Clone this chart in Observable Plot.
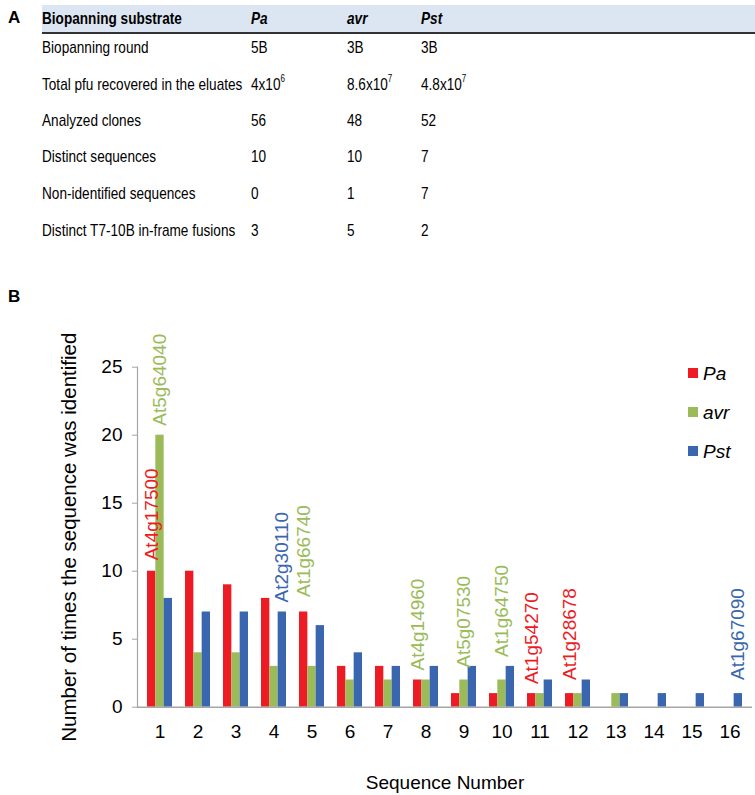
<!DOCTYPE html>
<html><head><meta charset="utf-8">
<script src="https://cdn.jsdelivr.net/npm/d3@7"></script>
<script src="https://cdn.jsdelivr.net/npm/@observablehq/plot@0.6"></script>
<style>
body{margin:0;background:#fff;width:755px;height:795px;overflow:hidden;position:relative;font-family:"Liberation Sans",Arial,sans-serif;color:#000;}
.panel{position:absolute;font-weight:bold;font-size:17px;line-height:20px;z-index:3;}
.hdr{position:absolute;left:42px;top:5px;width:713px;height:27px;background:#dce6f2;border-bottom:2px solid #333;}
.cell{position:absolute;font-family:"Liberation Sans",Arial,sans-serif;font-size:17px;line-height:20px;white-space:nowrap;transform:translateY(-50%) scaleX(0.8);transform-origin:0 50%;}
.cell sup{font-size:10px;vertical-align:top;line-height:10px;position:relative;top:-1px;}
#chart{position:absolute;left:0;top:300px;}
#chart g[aria-label="y-axis label"]{font-size:20.5px;}
.leg{position:absolute;font-size:19px;font-style:italic;line-height:20px;white-space:nowrap;transform:translateY(-50%);}
.leg span{display:inline-block;width:10px;height:10px;margin-right:5px;vertical-align:middle;position:relative;top:-2px;}
</style>
</head><body>
<div class="panel" style="left:8px;top:8px;">A</div>
<div class="panel" style="left:8px;top:287px;">B</div>
<div class="hdr"></div>
<div id="table"></div>
<div id="chart"></div>
<div id="legend"></div>
<script>
// ---- Table data (panel A) ----
const tableHeader = ["Biopanning substrate", "Pa", "avr", "Pst"];
const rowLabels = ["Biopanning round", "Total pfu recovered in the eluates", "Analyzed clones", "Distinct sequences", "Non-identified sequences", "Distinct T7-10B in-frame fusions"];
const paColumn = ["5B", "4x10^6", "56", "10", "0", "3"];
const avrColumn = ["3B", "8.6x10^7", "48", "10", "1", "5"];
const pstColumn = ["3B", "4.8x10^7", "52", "7", "7", "2"];

// ---- Chart data (panel B) ----
const sequences = [1, 2, 3, 4, 5, 6, 7, 8, 9, 10, 11, 12, 13, 14, 15, 16];
const seriesNames = ["Pa", "avr", "Pst"];
const seriesColors = ["#ed1c24", "#9bbb59", "#3a66b0"];
const paCounts  = [10, 10, 9, 8, 7, 3, 3, 2, 1, 1, 1, 1, 0, 0, 0, 0];
const avrCounts = [20, 4, 4, 3, 3, 2, 2, 2, 2, 2, 1, 1, 1, 0, 0, 0];
const pstCounts = [8, 7, 7, 7, 6, 4, 3, 3, 3, 3, 2, 2, 1, 1, 1, 1];
const yTicks = [0, 5, 10, 15, 20, 25];

const geneNames  = ["At4g17500", "At5g64040", "At2g30110", "At1g66740", "At4g14960", "At5g07530", "At1g64750", "At1g54270", "At1g28678", "At1g67090"];
const geneSeq    = [1, 1, 4, 5, 8, 9, 10, 11, 12, 16];
const geneColor  = ["Pa", "avr", "Pst", "avr", "avr", "avr", "avr", "Pa", "Pa", "Pst"];
const genePos    = ["Pa", "avr", "Pst", "Pa", "Pa", "avr", "avr", "Pa", "Pa", "Pst"];
const geneBase   = [10.8, 20.7, 7.7, 8.1, 2.7, 2.9, 3.7, 1.7, 2.0, 2.0];

// ---- Table rendering ----
const tbl = document.getElementById("table");
const colX = [42, 251, 347, 421];
function fmt(s){ return s.replace(/\^(\d+)/g, "<sup>$1</sup>"); }
function cell(x, y, html, style){
  const d = document.createElement("div");
  d.className = "cell";
  d.style.left = x + "px"; d.style.top = y + "px";
  if (style) d.style.cssText += style;
  d.innerHTML = html;
  tbl.appendChild(d);
}
tableHeader.forEach((h, i) => cell(colX[i], 19, h, "font-weight:bold;" + (i ? "font-style:italic;" : "")));
const rowY = [48, 85, 121, 157, 194, 231];
rowLabels.forEach((r, i) => {
  cell(colX[0], rowY[i], r);
  cell(colX[1], rowY[i], fmt(paColumn[i]));
  cell(colX[2], rowY[i], fmt(avrColumn[i]));
  cell(colX[3], rowY[i], fmt(pstColumn[i]));
});

// ---- Chart ----
const counts = {Pa: paCounts, avr: avrCounts, Pst: pstCounts};
const bars = [];
seriesNames.forEach(s => sequences.forEach((q, i) => bars.push({seq: q, series: s, value: counts[s][i]})));
const genes = geneNames.map((g, i) => ({name: g, seq: geneSeq[i], color: geneColor[i], pos: genePos[i], base: geneBase[i]}));

const W = 755, H = 495, ML = 137, MR = 3;
const step = (W - ML - MR) / sequences.length;
const bw = step * 0.65;
const third = bw / 3;
const insets = {Pa: [0, 2 * third], avr: [third, third], Pst: [2 * third, 0]};
const offsets = {Pa: -third, avr: 0, Pst: third};
const colorOf = Object.fromEntries(seriesNames.map((s, i) => [s, seriesColors[i]]));

const chart = Plot.plot({
  width: W, height: H,
  marginLeft: ML, marginRight: MR, marginTop: 66.7, marginBottom: 88.3,
  style: {fontFamily: "'Liberation Sans', Arial, sans-serif", fontSize: "19px", color: "#000", background: "#fff", overflow: "visible"},
  x: {type: "band", domain: sequences, paddingInner: 0.35, paddingOuter: 0.175},
  y: {domain: [0, 25]},
  marks: [
    Plot.axisY({ticks: yTicks, tickSize: 5, tickPadding: 10, stroke: "#a6a6a6", fontSize: 19,
      label: "Number of times the sequence was identified", labelAnchor: "center", labelOffset: 76, labelArrow: "none"}),
    Plot.axisX({tickSize: 0, tickPadding: 17, fontSize: 19,
      label: "Sequence Number", labelAnchor: "center", labelOffset: 82, labelArrow: "none"}),
    ...seriesNames.map(s => Plot.barY(bars.filter(d => d.series === s && d.value > 0), {
      x: "seq", y: "value", fill: colorOf[s], insetLeft: insets[s][0], insetRight: insets[s][1]
    })),
    Plot.ruleY([0], {stroke: "#a6a6a6", strokeWidth: 1.5}),
    Plot.frame({anchor: "left", stroke: "#a6a6a6", strokeWidth: 1.2}),
    ...seriesNames.map(s => Plot.text(genes.filter(d => d.pos === s), {
      x: "seq", y: "base", text: "name", fill: d => colorOf[d.color], rotate: -90,
      textAnchor: "start", lineAnchor: "middle", fontSize: 19, dx: offsets[s]
    }))
  ]
});
document.getElementById("chart").appendChild(chart);

// ---- Legend ----
const leg = document.getElementById("legend");
const legY = [374, 413, 452];
seriesNames.forEach((s, i) => {
  const d = document.createElement("div");
  d.className = "leg";
  d.style.left = "688px"; d.style.top = legY[i] + "px";
  d.innerHTML = `<span style="background:${seriesColors[i]}"></span>${s}`;
  leg.appendChild(d);
});
</script>
</body></html>
